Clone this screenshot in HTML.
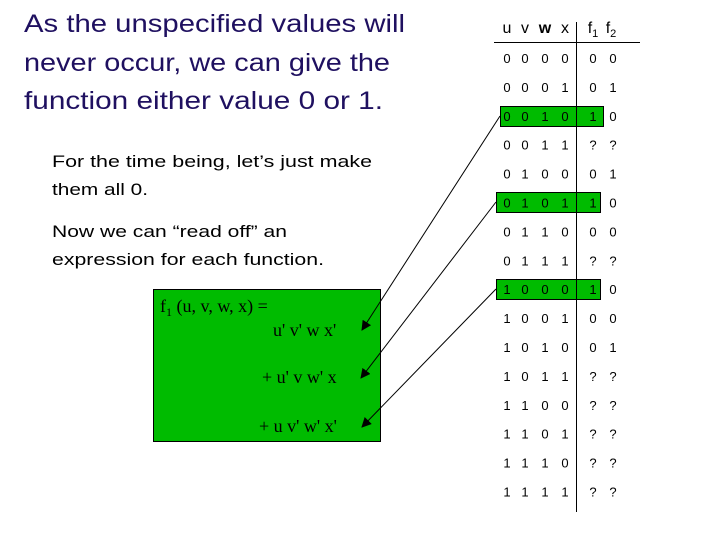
<!DOCTYPE html>
<html><head><meta charset="utf-8"><style>body{margin:0;background:#fff}svg{display:block}</style></head><body>
<svg width="720" height="540" viewBox="0 0 720 540" xmlns="http://www.w3.org/2000/svg">
<defs><marker id="a" markerWidth="10" markerHeight="10" refX="9" refY="5" orient="auto" markerUnits="userSpaceOnUse" viewBox="0 0 10 10"><path d="M0,0 L10,5 L0,10 z" fill="#000"/></marker></defs>
<g font-family="Liberation Sans, sans-serif" fill="#1f1060" font-size="25">
<text x="24" y="32" textLength="381" lengthAdjust="spacingAndGlyphs">As the unspecified values will</text>
<text x="24" y="71" textLength="366" lengthAdjust="spacingAndGlyphs">never occur, we can give the</text>
<text x="24" y="109" textLength="359" lengthAdjust="spacingAndGlyphs">function either value 0 or 1.</text>
</g>
<g font-family="Liberation Sans, sans-serif" fill="#000" font-size="17">
<text x="52" y="167" textLength="320" lengthAdjust="spacingAndGlyphs">For the time being, let’s just make</text>
<text x="52" y="195" textLength="96" lengthAdjust="spacingAndGlyphs">them all 0.</text>
<text x="52" y="237" textLength="235" lengthAdjust="spacingAndGlyphs">Now we can “read off” an</text>
<text x="52" y="265" textLength="272" lengthAdjust="spacingAndGlyphs">expression for each function.</text>
</g>
<rect x="153.5" y="289.5" width="227" height="152" fill="#00bb00" stroke="#000"/>
<g font-family="Liberation Serif, serif" fill="#000" font-size="18">
<text x="160" y="312">f<tspan font-size="12" dy="4">1</tspan><tspan dy="-4"> (u, v, w, x) =</tspan></text>
<text x="273" y="336">u' v' w x'</text>
<text x="262" y="383">+ u' v w' x</text>
<text x="259" y="432">+ u v' w' x'</text>
</g>
<rect x="500.5" y="106.5" width="103" height="20" fill="#00bb00" stroke="#000"/>
<rect x="496.5" y="192.5" width="104" height="20" fill="#00bb00" stroke="#000"/>
<rect x="496.5" y="279.5" width="104" height="20" fill="#00bb00" stroke="#000"/>
<line x1="494" y1="42.5" x2="640" y2="42.5" stroke="#000"/>
<line x1="576.5" y1="22" x2="576.5" y2="512" stroke="#000"/>
<g font-family="Liberation Sans, sans-serif" font-size="16" fill="#000" text-anchor="middle">
<text x="507" y="33">u</text><text x="525" y="33">v</text><text x="545" y="33" font-weight="bold">w</text><text x="565" y="33">x</text>
<text x="593" y="33">f<tspan font-size="11" dy="4">1</tspan></text><text x="611" y="33">f<tspan font-size="11" dy="4">2</tspan></text>
</g>
<g font-family="Liberation Sans, sans-serif" font-size="13" fill="#000" text-anchor="middle" id="t"></g>
<script>
var g=document.getElementById('t');
var f1=['0','0','1','?','0','1','0','?','1','0','0','?','?','?','?','?'];
var f2=['0','1','0','?','1','0','0','?','0','0','1','?','?','?','?','?'];
var xs=[507,525,545,565];
for(var i=0;i<16;i++){var y=63+i*28.9;
for(var b=0;b<4;b++){var t=document.createElementNS('http://www.w3.org/2000/svg','text');t.setAttribute('x',xs[b]);t.setAttribute('y',y);t.textContent=(i>>(3-b))&1;g.appendChild(t);}
[[593,f1[i]],[613,f2[i]]].forEach(function(p){var t=document.createElementNS('http://www.w3.org/2000/svg','text');t.setAttribute('x',p[0]);t.setAttribute('y',y);t.textContent=p[1];g.appendChild(t);});}
</script>
<g stroke="#000" stroke-width="1">
<line x1="500" y1="116" x2="362" y2="330" marker-end="url(#a)"/>
<line x1="496" y1="202" x2="361" y2="378" marker-end="url(#a)"/>
<line x1="496" y1="289" x2="362" y2="427" marker-end="url(#a)"/>
</g>
</svg>
</body></html>
